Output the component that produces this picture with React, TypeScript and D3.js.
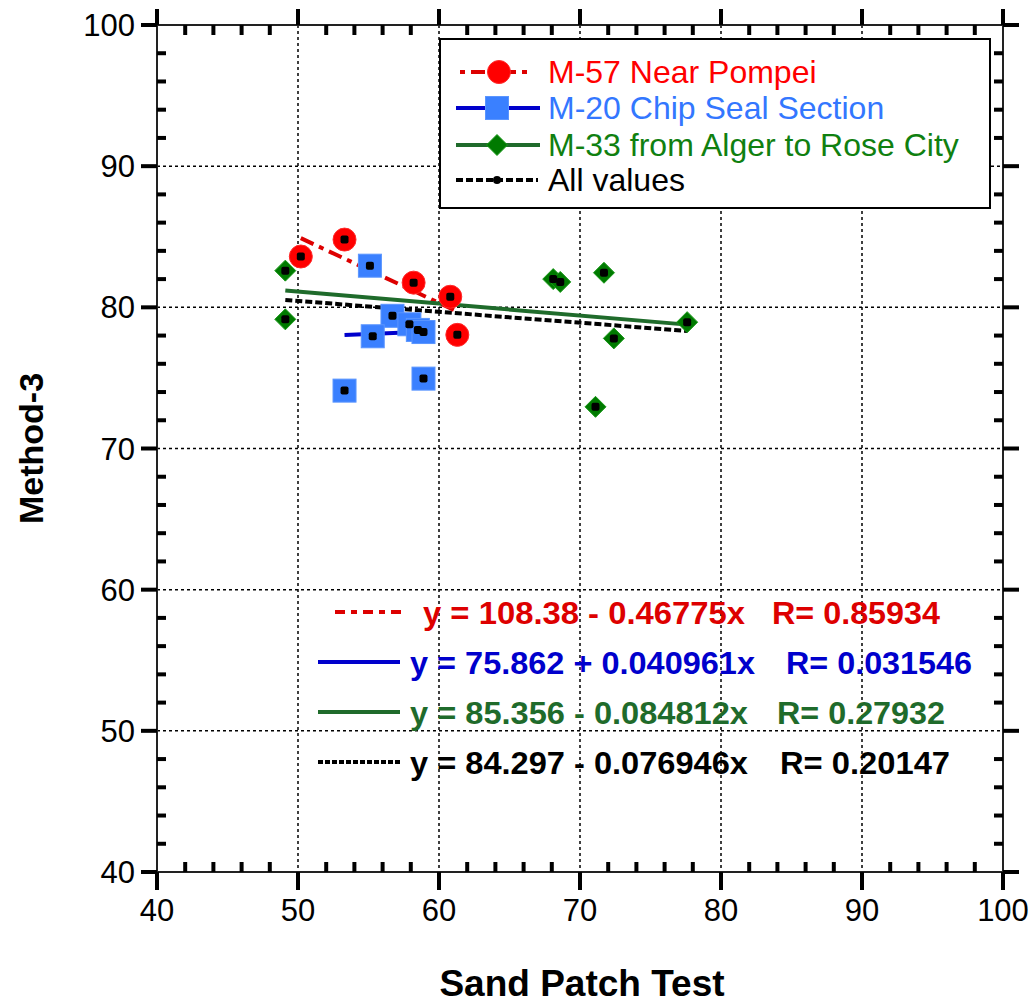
import * as d3 from "d3";

// data
const m57X = [50.2, 53.3, 58.2, 60.8, 61.3];
const m57Y = [83.6, 84.8, 81.75, 80.75, 78.05];
const m20X = [55.1, 56.7, 57.9, 58.5, 58.9, 55.3, 53.3, 58.9];
const m20Y = [82.95, 79.4, 78.8, 78.4, 78.25, 77.95, 74.1, 74.95];
const m33X = [49.1, 49.1, 68.1, 68.6, 71.7, 72.4, 77.6, 71.1];
const m33Y = [82.6, 79.15, 82.0, 81.8, 82.45, 77.8, 78.95, 72.95];

const seriesNames = ["M-57 Near Pompei", "M-20 Chip Seal Section", "M-33 from Alger to Rose City", "All values"];
const fitIntercepts = [108.38, 75.862, 85.356, 84.297];
const fitSlopes = [-0.46775, 0.040961, -0.084812, -0.076946];
const fitEquations = [
  "y = 108.38 - 0.46775x",
  "y = 75.862 + 0.040961x",
  "y = 85.356 - 0.084812x",
  "y = 84.297 - 0.076946x",
];
const fitR = ["R= 0.85934", "R= 0.031546", "R= 0.27932", "R= 0.20147"];

const xTicks = [40, 50, 60, 70, 80, 90, 100];
const yTicks = [40, 50, 60, 70, 80, 90, 100];

const W = 1035;
const H = 1003;
const left = 157, right = 1003, top = 25, bottom = 872;

export default function App() {
  const x = d3.scaleLinear().domain([40, 100]).range([left, right]);
  const y = d3.scaleLinear().domain([40, 100]).range([bottom, top]);
  const minorX = d3.range(40, 100.01, 2).filter((v) => v % 10 !== 0);
  const minorY = d3.range(40, 100.01, 2).filter((v) => v % 10 !== 0);

  const allX = [...m57X, ...m20X, ...m33X];
  const allY = [...m57Y, ...m20Y, ...m33Y];
  const groupsX = [m57X, m20X, m33X, allX];

  const lineColors = ["#dd0000", "#0000cc", "#1f6b2b", "#000000"];
  const lineDash = ["14,6,5,6", null, null, "7,3"];
  const eqColors = ["#dd0000", "#0000cc", "#1f6b2b", "#000000"];
  const legendColors = ["#ff0000", "#3377ff", "#108010", "#000000"];

  const fitLine = (i: number) => {
    const [x0, x1] = d3.extent(groupsX[i]) as [number, number];
    const f = (v: number) => fitIntercepts[i] + fitSlopes[i] * v;
    return d3.line<number>().x((v) => x(v)).y((v) => y(f(v)))([x0, x1]) || "";
  };

  const circle = (cx: number, cy: number, k: string) => (
    <circle key={k} cx={cx} cy={cy} r={11.5} fill="#ff0000" stroke="#ff2a2a" strokeWidth={1} />
  );
  const square = (cx: number, cy: number, k: string) => (
    <rect key={k} x={cx - 11.5} y={cy - 11.5} width={23} height={23} fill="#3a80ff" stroke="#5a95ff" strokeWidth={1} />
  );
  const diamond = (cx: number, cy: number, k: string) => (
    <path key={k} d={`M${cx},${cy - 10.5}L${cx + 10.5},${cy}L${cx},${cy + 10.5}L${cx - 10.5},${cy}Z`} fill="#007a00" stroke="#1a9a1a" strokeWidth={1} />
  );
  const dot = (cx: number, cy: number, k: string) => (
    <rect key={k} x={cx - 4} y={cy - 4} width={8} height={8} rx={2} fill="#000" />
  );

  const eqRowsY = [612, 662, 712, 762];
  const eqSample = [[335, 405], [318, 400], [318, 400], [318, 400]];
  const eqTextX = [423, 410, 410, 410];
  const eqTextW = [322, 345, 338, 338];
  const rTextX = [772, 786, 777, 780];
  const rTextW = [168, 186, 168, 170];

  const legendRows = [72, 108, 145, 180];

  return (
    <div style={{ position: "absolute", left: 0, top: 0 }}>
      <svg width={W} height={H} style={{ display: "block", fontFamily: "'Liberation Sans', Arial, sans-serif" }}>
        <rect width={W} height={H} fill="#fff" />
        {/* grid */}
        {xTicks.slice(1, -1).map((t) => (
          <line key={"gx" + t} x1={x(t)} x2={x(t)} y1={top} y2={bottom} stroke="#000" strokeWidth={1.5} strokeDasharray="3,3" />
        ))}
        {yTicks.slice(1, -1).map((t) => (
          <line key={"gy" + t} x1={left} x2={right} y1={y(t)} y2={y(t)} stroke="#000" strokeWidth={1.5} strokeDasharray="3,3" />
        ))}
        {/* frame */}
        <rect x={left} y={top} width={right - left} height={bottom - top} fill="none" stroke="#222" strokeWidth={2} />
        {/* ticks */}
        {xTicks.map((t) => (
          <g key={"tx" + t}>
            <line x1={x(t)} x2={x(t)} y1={bottom} y2={bottom + 18} stroke="#000" strokeWidth={4} />
            <line x1={x(t)} x2={x(t)} y1={top} y2={top - 16} stroke="#000" strokeWidth={4} />
            <text x={x(t)} y={bottom + 49} textAnchor="middle" fontSize={31}>{t}</text>
          </g>
        ))}
        {minorX.map((t) => (
          <g key={"mx" + t}>
            <line x1={x(t)} x2={x(t)} y1={bottom} y2={bottom - 10} stroke="#000" strokeWidth={4} />
            <line x1={x(t)} x2={x(t)} y1={top} y2={top + 10} stroke="#000" strokeWidth={4} />
          </g>
        ))}
        {yTicks.map((t) => (
          <g key={"ty" + t}>
            <line x1={left} x2={left - 16} y1={y(t)} y2={y(t)} stroke="#000" strokeWidth={4} />
            <line x1={right} x2={right + 16} y1={y(t)} y2={y(t)} stroke="#000" strokeWidth={4} />
            <text x={135} y={y(t) + 11} textAnchor="end" fontSize={31}>{t}</text>
          </g>
        ))}
        {minorY.map((t) => (
          <g key={"my" + t}>
            <line x1={left} x2={left + 9} y1={y(t)} y2={y(t)} stroke="#000" strokeWidth={4} />
            <line x1={right} x2={right - 9} y1={y(t)} y2={y(t)} stroke="#000" strokeWidth={4} />
          </g>
        ))}
        {/* fit lines */}
        {[3, 0, 1, 2].map((i) => (
          <path key={"fit" + i} d={fitLine(i)} fill="none" stroke={lineColors[i]} strokeWidth={4}
            strokeDasharray={lineDash[i] || undefined} />
        ))}
        {/* markers */}
        {m33X.map((v, i) => diamond(x(v), y(m33Y[i]), "d" + i))}
        {m57X.map((v, i) => circle(x(v), y(m57Y[i]), "c" + i))}
        {m20X.map((v, i) => square(x(v), y(m20Y[i]), "s" + i))}
        {allX.map((v, i) => dot(x(v), y(allY[i]), "a" + i))}
        {/* legend */}
        <rect x={440} y={39} width={550} height={169} fill="#fff" stroke="#000" strokeWidth={2} />
        {seriesNames.map((name, i) => {
          const ly = legendRows[i];
          return (
            <g key={"lg" + i}>
              {i === 0 && (
                <line x1={460} x2={530} y1={ly} y2={ly} stroke="#dd0000" strokeWidth={4} strokeDasharray="5,6,14,6" />
              )}
              {(i === 1 || i === 2) && (
                <line x1={456} x2={540} y1={ly} y2={ly} stroke={lineColors[i]} strokeWidth={4} />
              )}
              {i === 3 && (
                <line x1={456} x2={538} y1={ly} y2={ly} stroke="#000" strokeWidth={4} strokeDasharray="7,3" />
              )}
              {i === 0 && circle(499, ly, "lc")}
              {i === 1 && square(497, ly, "ls")}
              {i === 2 && diamond(497, ly, "ld")}
              {i === 3 && <circle cx={497} cy={ly} r={4} fill="#000" />}
              <text x={548} y={ly + 11} fontSize={32} fill={legendColors[i]}>{name}</text>
            </g>
          );
        })}
        {/* fit equations */}
        {fitEquations.map((eq, i) => {
          const ry = eqRowsY[i];
          return (
            <g key={"eq" + i}>
              <line x1={eqSample[i][0]} x2={eqSample[i][1]} y1={ry} y2={ry} stroke={lineColors[i]} strokeWidth={4}
                strokeDasharray={i === 0 ? "10,6,6,6" : i === 3 ? "5,2" : undefined} />
              <text x={eqTextX[i]} y={ry + 12} fontSize={32} fontWeight="bold" fill={eqColors[i]}
                textLength={eqTextW[i]} lengthAdjust="spacingAndGlyphs">{eq}</text>
              <text x={rTextX[i]} y={ry + 12} fontSize={32} fontWeight="bold" fill={eqColors[i]}
                textLength={rTextW[i]} lengthAdjust="spacingAndGlyphs">{fitR[i]}</text>
            </g>
          );
        })}
        {/* axis titles */}
        <text x={582} y={996} textAnchor="middle" fontSize={37} fontWeight="bold">Sand Patch Test</text>
        <text transform={`translate(43,${(top + bottom) / 2}) rotate(-90)`} textAnchor="middle" fontSize={34} fontWeight="bold">Method-3</text>
      </svg>
    </div>
  );
}
